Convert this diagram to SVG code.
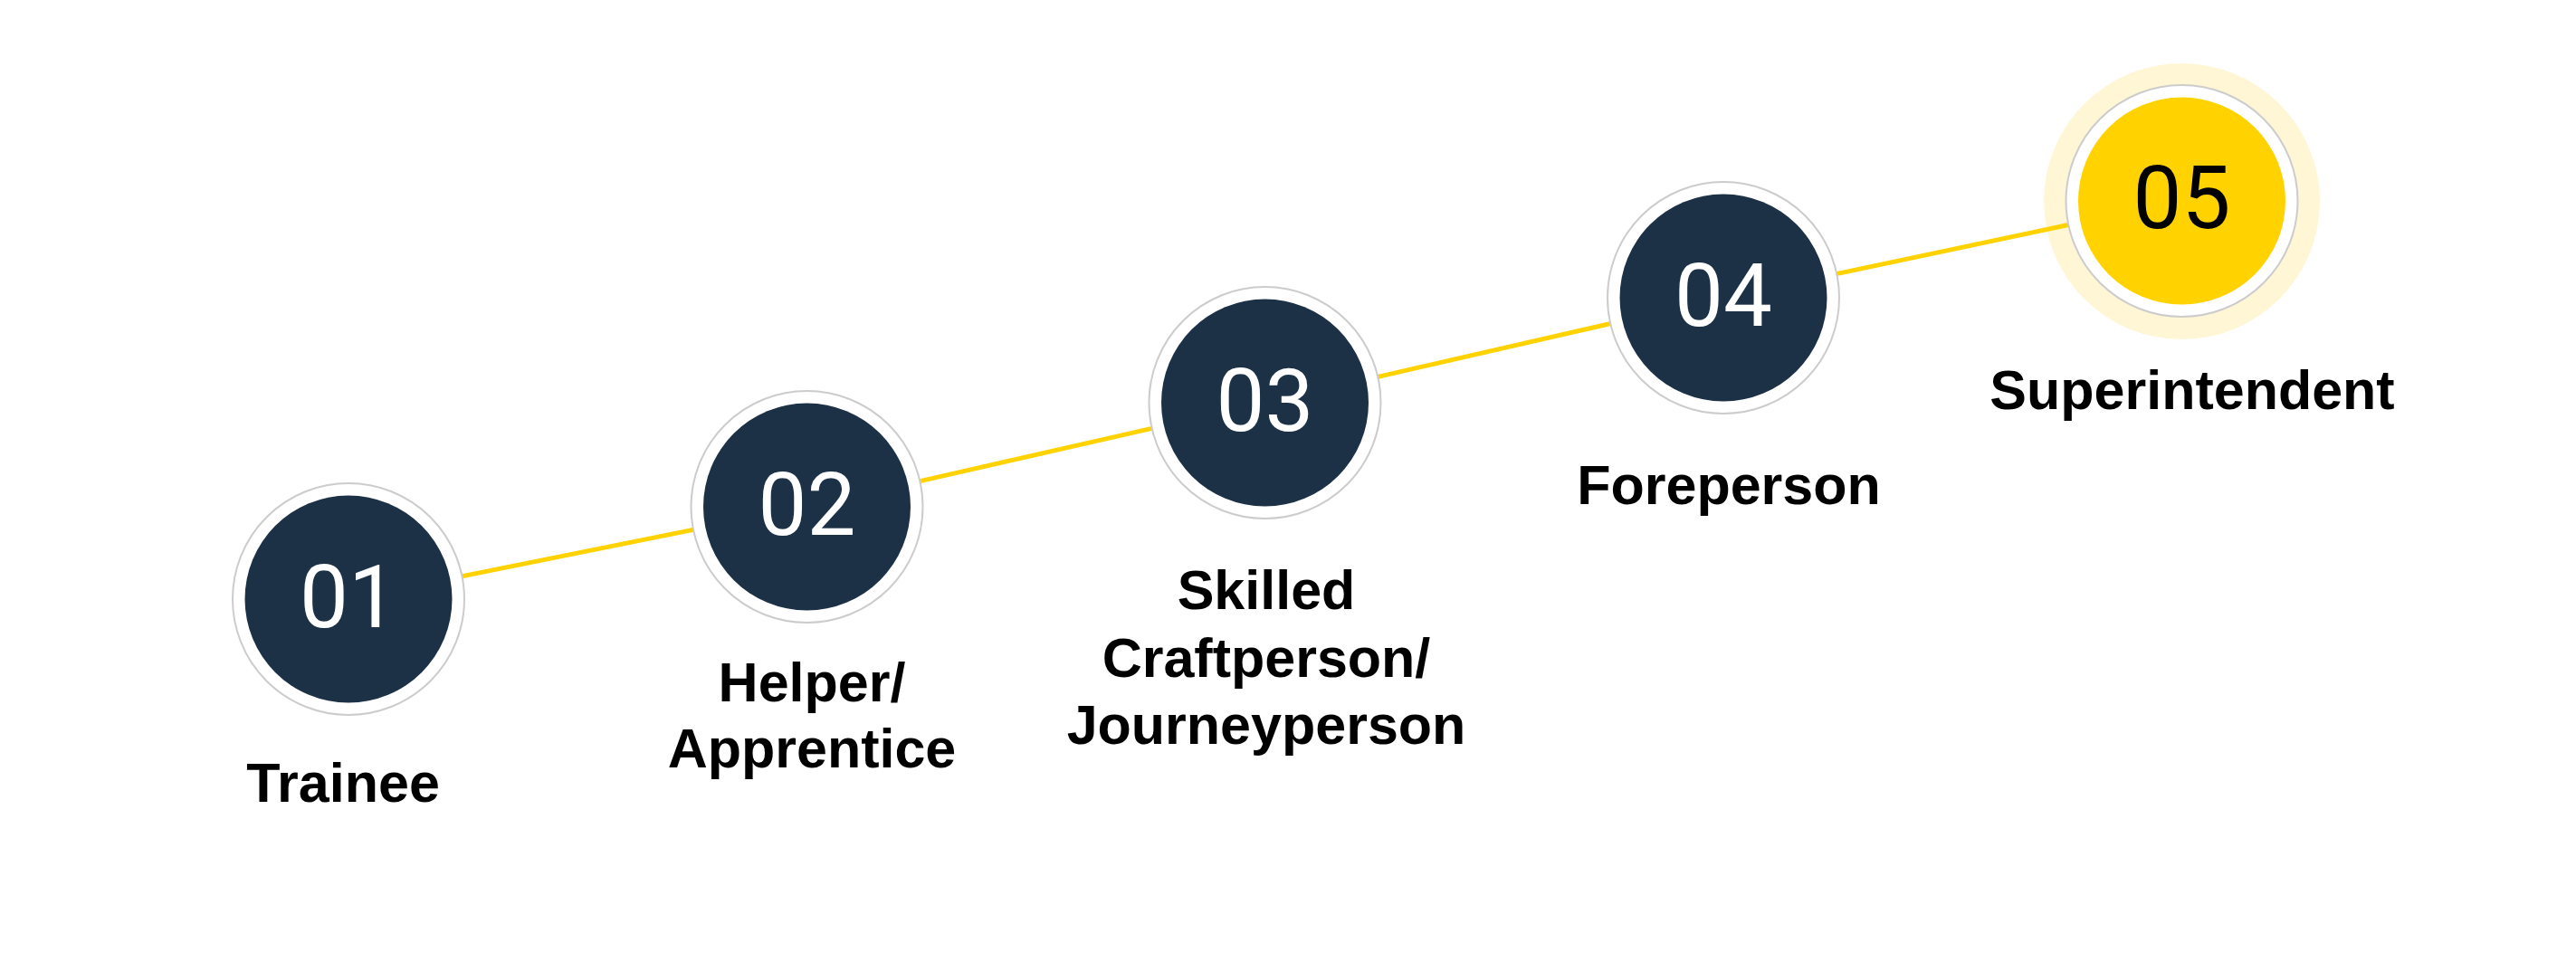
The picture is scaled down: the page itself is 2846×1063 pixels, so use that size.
<svg xmlns="http://www.w3.org/2000/svg" width="2846" height="1063" viewBox="0 0 2846 1063">
<style>
.ring{fill:#ffffff;stroke:#cccccc;stroke-width:2}
.core{fill:#1c3146}
.core5{fill:#ffd200}
.num{font-family:Roboto,"Liberation Sans",sans-serif;font-weight:400;font-size:96px;fill:#ffffff;text-anchor:middle}
.num5{fill:#000000}
.lbl{font-family:"Liberation Sans",Arial,sans-serif;font-weight:bold;font-size:61px;fill:#000000;text-anchor:middle}
.conn{stroke:#ffd200;stroke-width:5;fill:none}
</style>
<rect width="2846" height="1063" fill="#ffffff"/>
<circle cx="2410.5" cy="222.5" r="152.5" fill="#fff6d6"/>
<g id="connectors">
<line class="conn" x1="385" y1="662" x2="891.5" y2="560"/>
<line class="conn" x1="891.5" y1="560" x2="1397.5" y2="445"/>
<line class="conn" x1="1397.5" y1="445" x2="1904" y2="329"/>
<line class="conn" x1="1904" y1="329" x2="2410.5" y2="222"/>
</g>
<g id="node1">
<circle class="ring" cx="385" cy="662" r="128"/>
<circle class="core" cx="385" cy="662" r="114.5"/>
<text class="num" x="385" y="693">01</text>
<text class="lbl" x="379" y="886">Trainee</text>
</g>
<g id="node2">
<circle class="ring" cx="891.5" cy="560" r="128"/>
<circle class="core" cx="891.5" cy="560" r="114.5"/>
<text class="num" x="891.5" y="591">02</text>
<text class="lbl" x="897" y="775">Helper/</text>
<text class="lbl" x="897" y="848">Apprentice</text>
</g>
<g id="node3">
<circle class="ring" cx="1397.5" cy="445" r="128"/>
<circle class="core" cx="1397.5" cy="445" r="114.5"/>
<text class="num" x="1397.5" y="476">03</text>
<text class="lbl" x="1399" y="673">Skilled</text>
<text class="lbl" x="1399" y="748">Craftperson/</text>
<text class="lbl" x="1399" y="822">Journeyperson</text>
</g>
<g id="node4">
<circle class="ring" cx="1904" cy="329" r="128"/>
<circle class="core" cx="1904" cy="329" r="114.5"/>
<text class="num" x="1904" y="360">04</text>
<text class="lbl" x="1910" y="557">Foreperson</text>
</g>
<g id="node5">
<circle class="ring" cx="2410.5" cy="222" r="128"/>
<circle class="core5" cx="2410.5" cy="222" r="114.5"/>
<text class="num num5" x="2410.5" y="252">05</text>
<text class="lbl" x="2422" y="452">Superintendent</text>
</g>
</svg>
